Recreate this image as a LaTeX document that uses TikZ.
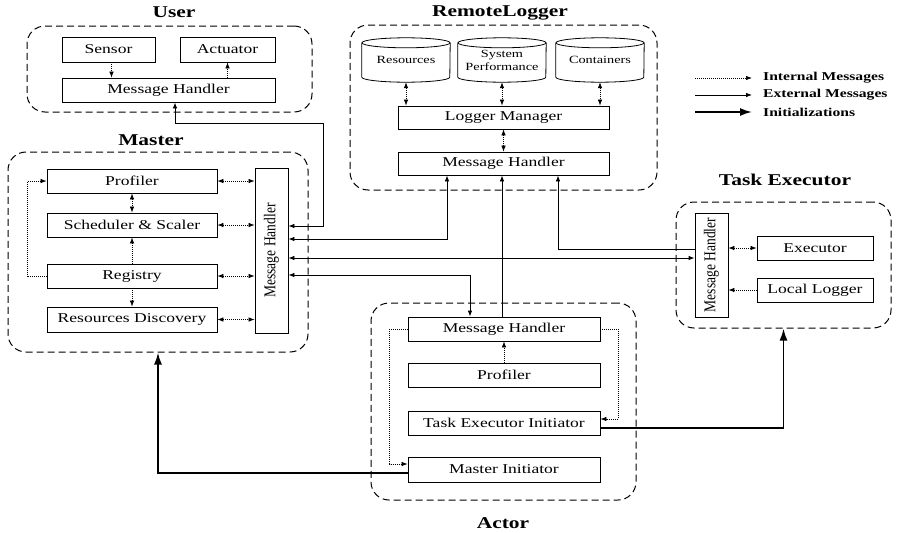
\documentclass[tikz,border=0pt]{standalone}
\usepackage{fontspec}
\setmainfont[FakeStretch=1.3]{Liberation Serif}
\newfontfamily\vertrm[FakeStretch=0.82]{Liberation Serif}
\usetikzlibrary{arrows.meta,calc}
\begin{document}
\begin{tikzpicture}[x=1pt,y=-1pt,
  >={Latex[length=6pt,width=4.5pt]},
  box/.style={draw,line width=0.8pt,inner sep=0pt,font=\fontsize{13.5}{15}\selectfont},
  cyl/.style={inner sep=0pt,minimum width=88pt,minimum height=44pt,align=center,font=\fontsize{11}{13}\selectfont},
  vtext/.style={rotate=90,inner sep=0pt,font=\vertrm\fontsize{16.5}{18}\selectfont},
  grp/.style={draw,line width=1pt,dash pattern=on 7pt off 4pt,rounded corners=18pt,inner sep=0pt},
  ttl/.style={inner sep=0pt,font=\fontsize{16.5}{18}\selectfont\bfseries},
  lgd/.style={inner sep=0pt,anchor=west,font=\fontsize{12}{14}\selectfont\bfseries},
  intl/.style={line width=0.7pt,dash pattern=on 1pt off 1pt},
  extl/.style={line width=0.8pt},
  initl/.style={line width=1.8pt,-{Latex[length=12pt,width=8pt]}}
]
\useasboundingbox (0,0) rectangle (898,533);

% ---------- groups ----------
\node[grp,minimum width=285pt,minimum height=86pt] (ug) at (169.5,69) {};
\node[ttl] (ugt) at (174,12) {User};
\node[grp,minimum width=307pt,minimum height=165pt] (rg) at (503.5,107.5) {};
\node[ttl] (rgt) at (500,13) {RemoteLogger};
\node[grp,minimum width=300pt,minimum height=200pt] (mg) at (158,252) {};
\node[ttl] (mgt) at (151,140) {Master};
\node[grp,minimum width=215pt,minimum height=126pt] (teg) at (783.5,265) {};
\node[ttl] (tegt) at (785,180) {Task Executor};
\node[grp,minimum width=265pt,minimum height=197pt] (ag) at (503.5,401.5) {};
\node[ttl] (agt) at (503,523) {Actor};

% ---------- User ----------
\node[box,minimum width=93pt,minimum height=25pt] (sensor) at (108.5,49.5) {Sensor};
\node[box,minimum width=95pt,minimum height=25pt] (actuator) at (227.5,49.5) {Actuator};
\node[box,minimum width=213pt,minimum height=24pt] (umh) at (168.5,90) {Message Handler};
\draw[intl,->] ([xshift=3pt]sensor.south) -- ([xshift=3pt]sensor.south |- umh.north);
\draw[intl,->] (actuator.south |- umh.north) -- (actuator.south);

% ---------- RemoteLogger ----------
\node[cyl] (res) at (406,60) {Resources};
\node[cyl] (sysp) at (502,60) {System\\Performance};
\node[cyl] (cont) at (600,60) {Containers};
\foreach \n in {res,sysp,cont}{
  \draw[line width=0.8pt] ([yshift=-5pt]\n.north west) -- ([yshift=5pt]\n.south west)
     arc[start angle=180,end angle=360,x radius=44pt,y radius=5pt]
     -- ([yshift=-5pt]\n.north east);
  \draw[line width=0.8pt] ([yshift=-5pt]\n.north) ellipse[x radius=44pt,y radius=5pt];
}
\node[box,minimum width=211pt,minimum height=23pt] (lm) at (503.5,117.5) {Logger Manager};
\node[box,minimum width=211pt,minimum height=23pt] (rmh) at (503.5,163.5) {Message Handler};
\foreach \n in {res,sysp,cont}{
  \draw[intl,<->] (\n.south) -- (\n.south |- lm.north);
}
\draw[intl,<->] (lm.south) -- (rmh.north);

% ---------- Master ----------
\node[box,minimum width=170pt,minimum height=24pt] (prof) at (132,181) {Profiler};
\node[box,minimum width=170pt,minimum height=24pt] (sched) at (132,225) {Scheduler \& Scaler};
\node[box,minimum width=170pt,minimum height=24pt] (reg) at (132,276) {Registry};
\node[box,minimum width=170pt,minimum height=25pt] (rd) at (132,319.5) {Resources Discovery};
\node[box,minimum width=33pt,minimum height=165pt] (mmh) at (271.5,250.5) {};
\node[vtext] (mmht) at (mmh.center) {Message Handler};
\foreach \n in {prof,sched,reg,rd}{
  \draw[intl,<->] (\n.east) -- (\n.east -| mmh.west);
}
\draw[intl,<->] (prof.south) -- (sched.north);
\draw[intl,->] (reg.north) -- (sched.south);
\draw[intl,->] (reg.south) -- (rd.north);
\draw[intl,->] (reg.west) -- ++(-19,0) |- (prof.west);

% ---------- Task Executor ----------
\node[box,minimum width=33pt,minimum height=104pt] (temh) at (711.5,265) {};
\node[vtext] (temht) at (temh.center) {Message Handler};
\node[box,minimum width=116pt,minimum height=24pt] (exe) at (815,248) {Executor};
\node[box,minimum width=116pt,minimum height=24pt] (ll) at (815,290) {Local Logger};
\draw[intl,<->] (exe.west) -- (exe.west -| temh.east);
\draw[intl,->] (ll.west) -- (ll.west -| temh.east);

% ---------- Actor ----------
\node[box,minimum width=192pt,minimum height=24pt] (amh) at (504,329) {Message Handler};
\node[box,minimum width=192pt,minimum height=24pt] (aprof) at (504,375) {Profiler};
\node[box,minimum width=192pt,minimum height=24pt] (tei) at (504,423) {Task Executor Initiator};
\node[box,minimum width=192pt,minimum height=25pt] (mi) at (504,469.5) {Master Initiator};
\draw[intl,->] (aprof.north) -- (amh.south);
\draw[intl,->] (amh.east) -- ++(18,0) |- ([yshift=4pt]tei.east);
\draw[intl,->] (amh.west) -- ++(-18,0) |- ([yshift=5.5pt]mi.west);

% ---------- external messages ----------
\coordinate (u1) at (323,123);
\draw[extl,<->] ([xshift=6.5pt]umh.south) |- (u1) |- ([yshift=24.5pt]mmh.east);
\draw[extl,<->] ([xshift=-56.5pt]rmh.south) |- ([yshift=11.5pt]mmh.east);
\draw[extl,->] ([xshift=-2pt]amh.north) -- ([xshift=-2pt]amh.north |- rmh.south);
\draw[extl,->] ([yshift=16pt]temh.west) -| ([xshift=54.5pt]rmh.south);
\draw[extl,<->] ([yshift=-7.5pt]mmh.east) -- ([yshift=-7.5pt]mmh.east -| temh.west);
\draw[extl,<->] ([yshift=-24.5pt]mmh.east) -| ([xshift=-34pt]amh.north);

% ---------- initializations ----------
\draw[initl] ([yshift=-5pt]tei.east) -| (teg.south);
\draw[initl] ([yshift=-3.5pt]mi.west) -| (mg.south);

% ---------- legend ----------
\coordinate (la1) at (695,78);  \coordinate (lb1) at (752,78);
\coordinate (la2) at (695,95);  \coordinate (lb2) at (752,95);
\coordinate (la3) at (695,112); \coordinate (lb3) at (752,112);
\draw[intl,->] (la1) -- (lb1);
\draw[extl,->] (la2) -- (lb2);
\draw[initl] (la3) -- (lb3);
\node[lgd] (lt1) at (763,78) {Internal Messages};
\node[lgd] (lt2) at (763,95) {External Messages};
\node[lgd] (lt3) at (763,112) {Initializations};
\end{tikzpicture}
\end{document}
